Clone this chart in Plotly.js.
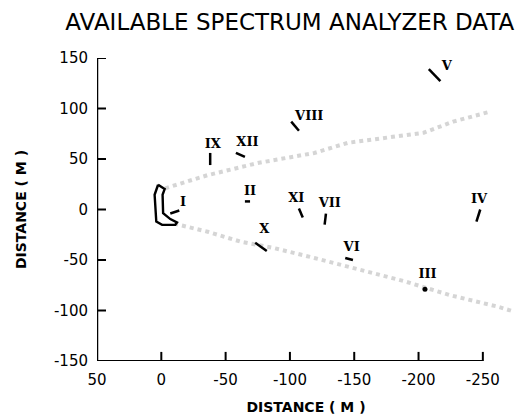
<!DOCTYPE html>
<html>
<head>
<meta charset="utf-8">
<script src="https://cdn.plot.ly/plotly-3.0.1.min.js"></script>
<style>html,body{margin:0;padding:0;background:#fff;}#chart{width:527px;height:419px;}</style>
</head>
<body>
<div id="chart"></div>
<script>
// Site labels (roman numerals) and their positions (metres)
const labels = ['I','II','III','IV','V','VI','VII','VIII','IX','X','XI','XII'];
const labelX = [-17, -69, -207, -247, -222, -148, -131, -115, -40, -80, -105, -67];
const labelY = [7, 18, -65, 10, 141, -38, 6, 92, 64, -20, 11, 66];
// Short line segments (direction marks) next to each label
const segX1 = [-7, -65, null, -248, -208, -143, -128, -101, -38, -73, -107, -58];
const segY1 = [-4, 8, null, 0, 139, -48, -4, 87, 56, -33, 1, 56];
const segX2 = [-14, -69, null, -245, -217, -149, -127, -107, -38, -82, -110, -65];
const segY2 = [-1, 8, null, -12, 127, -50, -15, 78, 44, -41, -8, 52];
// Site III is marked with a dot
const dotX = [-205];
const dotY = [-79];
// Outline near the origin
const outlineX = [2.5, -2.6, -1.0, -1.4, -7.0, -12.2, -10.9, -0.6, 3.9, 5.2, 2.5];
const outlineY = [24.5, 20.2, 14.6, -3.6, -9.5, -12.9, -15.2, -15.2, -11.9, 14.6, 24.5];
// Stippled beam edges
const upperX = [-3, -36, -75, -119, -145, -204, -227, -256];
const upperY = [21, 34, 46, 56, 66, 76, 87, 97];
const lowerX = [-10, -36, -62, -87, -119, -155, -189, -225, -261, -274];
const lowerY = [-14, -22, -32, -38, -48, -60, -71, -85, -96, -101];
// Axis ticks
const xTicks = [50, 0, -50, -100, -150, -200, -250];
const yTicks = [-150, -100, -50, 0, 50, 100, 150];

const segXs = [], segYs = [];
for (let i = 0; i < labels.length; i++) {
  if (segX1[i] === null) continue;
  segXs.push(segX1[i], segX2[i], null);
  segYs.push(segY1[i], segY2[i], null);
}

const stip = {color: 'rgba(150,150,150,0.4)', width: 4, dash: 'dot'};
const traces = [
  {x: upperX, y: upperY, mode: 'lines', line: stip, hoverinfo: 'skip'},
  {x: lowerX, y: lowerY, mode: 'lines', line: stip, hoverinfo: 'skip'},
  {x: outlineX, y: outlineY, mode: 'lines', line: {color: '#000', width: 2.4}, hoverinfo: 'skip'},
  {x: segXs, y: segYs, mode: 'lines', line: {color: '#000', width: 2.5}, hoverinfo: 'skip'},
  {x: dotX, y: dotY, mode: 'markers', marker: {color: '#000', size: 5}, hoverinfo: 'skip'},
  {x: labelX, y: labelY, mode: 'text', text: labels, cliponaxis: false,
   textfont: {family: 'DejaVu Serif', size: 13, color: '#000', weight: 'bold'}, hoverinfo: 'skip'}
];

const xMin = xTicks[0], xMax = xTicks[xTicks.length - 1];
const yMin = yTicks[0], yMax = yTicks[yTicks.length - 1];
const tickStroke = {color: '#000', width: 2};
const shapes = [
  {type: 'line', xref: 'x', yref: 'y', x0: xMin, x1: xMax, y0: yMin, y1: yMin, line: {color: '#000', width: 2}},
  {type: 'line', xref: 'x', yref: 'y', x0: xMin, x1: xMin, y0: yMin, y1: yMax, line: {color: '#000', width: 2.5}}
];
// inward tick marks, placed in data units through the axes' scales
xTicks.forEach(function (t) {
  shapes.push({type: 'line', xref: 'x', yref: 'y', x0: t, x1: t, y0: yMin, y1: yMin + 9, line: tickStroke});
});
yTicks.forEach(function (t) {
  shapes.push({type: 'line', xref: 'x', yref: 'y', x0: xMin, x1: xMin - 7, y0: t, y1: t, line: tickStroke});
});

const tickFont = {family: 'DejaVu Sans', size: 15, color: '#000'};
const layout = {
  width: 527, height: 419,
  margin: {l: 97, r: 12, t: 58, b: 58},
  paper_bgcolor: '#fff', plot_bgcolor: '#fff',
  showlegend: false,
  title: {text: 'AVAILABLE SPECTRUM ANALYZER DATA', xref: 'container', x: 0.55, xanchor: 'center',
          yref: 'container', y: 0.947, yanchor: 'middle',
          font: {family: 'DejaVu Sans', size: 23, color: '#000'}},
  xaxis: {range: [50, -275], tickvals: xTicks, ticktext: xTicks.map(String), showgrid: false, zeroline: false,
          showline: false, ticks: '', tickfont: tickFont, ticklabelstandoff: 8,
          title: {text: 'DISTANCE ( M )', font: {family: 'DejaVu Sans', size: 14, color: '#000', weight: 'bold'}, standoff: 14}},
  yaxis: {range: [-150, 150], tickvals: yTicks, ticktext: yTicks.map(String), showgrid: false, zeroline: false,
          showline: false, ticks: '', tickfont: tickFont, ticklabelstandoff: 8,
          title: {text: 'DISTANCE ( M )', font: {family: 'DejaVu Sans', size: 14, color: '#000', weight: 'bold'}, standoff: 24}},
  shapes: shapes
};

Plotly.newPlot('chart', traces, layout, {displayModeBar: false, staticPlot: true});
</script>
</body>
</html>
